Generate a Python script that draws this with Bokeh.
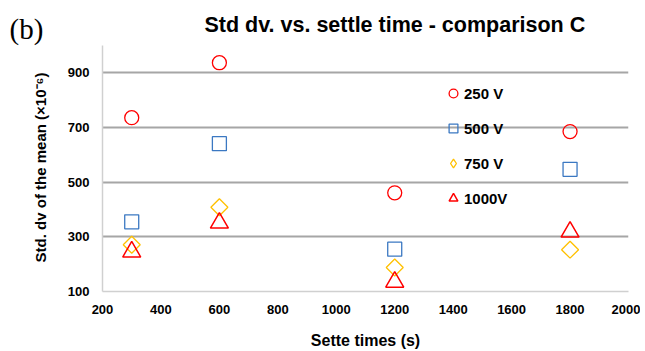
import math
from bokeh.plotting import figure
from bokeh.models import Range1d, FixedTicker, Legend, LegendItem, Label, Title
from bokeh.embed import file_html
from bokeh.resources import INLINE

# ---- data ----
times = [300, 600, 1200, 1800]
v250 = [736, 937, 461, 685]
v500 = [355, 641, 255, 547]
v750 = [271, 408, 188, 253]
v1000 = [245, 351, 135, 318]
series_labels = ["250 V", "500 V", "750 V", "1000V"]
x_ticks = [200, 400, 600, 800, 1000, 1200, 1400, 1600, 1800, 2000]
y_ticks = [100, 300, 500, 700, 900]
grid_ticks = [300, 500, 700, 900]
title_text = "Std dv. vs. settle time - comparison C"
x_title = "Sette times (s)"
y_title = "Std. dv of the mean (\u00d710\u207b\u2076)"
panel_tag = "(b)"

FONT = "Liberation Sans"
W = 640
H = 351

p = figure(width=W, height=H, output_backend="svg", toolbar_location=None,
           x_range=Range1d(200, 2000), y_range=Range1d(100, 1000),
           min_border_left=102, min_border_right=W - 628, min_border_top=45,
           min_border_bottom=H - 292)
p.outline_line_color = None

p.title = Title(text=title_text, align="left", offset=102, standoff=18,
                text_font=FONT, text_font_style="bold", text_font_size="21.5px",
                text_color="#000000")

p.xaxis.ticker = FixedTicker(ticks=x_ticks)
p.yaxis.ticker = FixedTicker(ticks=y_ticks)
p.xgrid.grid_line_color = None
p.ygrid.ticker = FixedTicker(ticks=grid_ticks)
p.ygrid.grid_line_color = "#a6a6a6"
p.ygrid.grid_line_width = 1.8

for ax in (p.xaxis, p.yaxis):
    ax.axis_line_color = "#d0d0d0"
    ax.axis_line_width = 1.5
    ax.major_tick_line_color = None
    ax.minor_tick_line_color = None
    ax.major_label_text_font = FONT
    ax.major_label_text_font_style = "bold"
    ax.major_label_text_font_size = "13px"
    ax.major_label_text_color = "#000000"
    ax.axis_label_text_font = FONT
    ax.axis_label_text_font_style = "bold"
    ax.axis_label_text_color = "#000000"

p.xaxis.major_label_standoff = 7
p.yaxis.major_label_standoff = 7
p.xaxis.axis_label = x_title
p.xaxis.axis_label_text_font_size = "16px"
p.xaxis.axis_label_standoff = 15

# y title and panel tag live in the left side panel (side panels are not clipped)
ylab = Label(x=-7, y=124, x_units="screen", y_units="screen", text=y_title,
             angle=math.pi / 2, text_font=FONT, text_font_style="bold",
             text_font_size="15px", text_align="center",
             text_baseline="middle", text_color="#000000")
p.add_layout(ylab, "left")
tag = Label(x=-4, y=263, x_units="screen", y_units="screen", text=panel_tag,
            text_font="Liberation Serif", text_font_size="29px",
            text_align="left", text_baseline="alphabetic",
            text_color="#000000")
p.add_layout(tag, "left")

r1 = p.scatter(times, v250, marker="circle", size=14, fill_color=None,
               line_color="#ff0000", line_width=1.3)
r2 = p.scatter(times, v500, marker="square", size=14, fill_color=None,
               line_color="#3b78c2", line_width=1.3)
r3 = p.scatter(times, v750, marker="square", angle=math.pi / 4, size=12,
               fill_color=None, line_color="#ffc000", line_width=1.3)
r4 = p.scatter(times, v1000, marker="triangle", size=18, fill_color=None,
               line_color="#ff0000", line_width=1.5)
# legend swatch for the 750 V series (legend swatches are drawn unrotated)
r3_key = p.scatter(times, v750, marker="diamond", size=0, fill_color=None,
                   line_color="#ffc000", line_width=1.3)

legend = Legend(items=[LegendItem(label=lab, renderers=[r])
                       for lab, r in zip(series_labels, [r1, r2, r3_key, r4])],
                location=(340, 82), glyph_width=22, glyph_height=22,
                label_height=22, spacing=13, padding=0, margin=0,
                label_standoff=0, border_line_color=None,
                background_fill_alpha=0,
                label_text_font=FONT, label_text_font_style="bold",
                label_text_font_size="15px", label_text_color="#000000")
p.add_layout(legend)

open("out.html", "w").write(file_html(p, INLINE))
